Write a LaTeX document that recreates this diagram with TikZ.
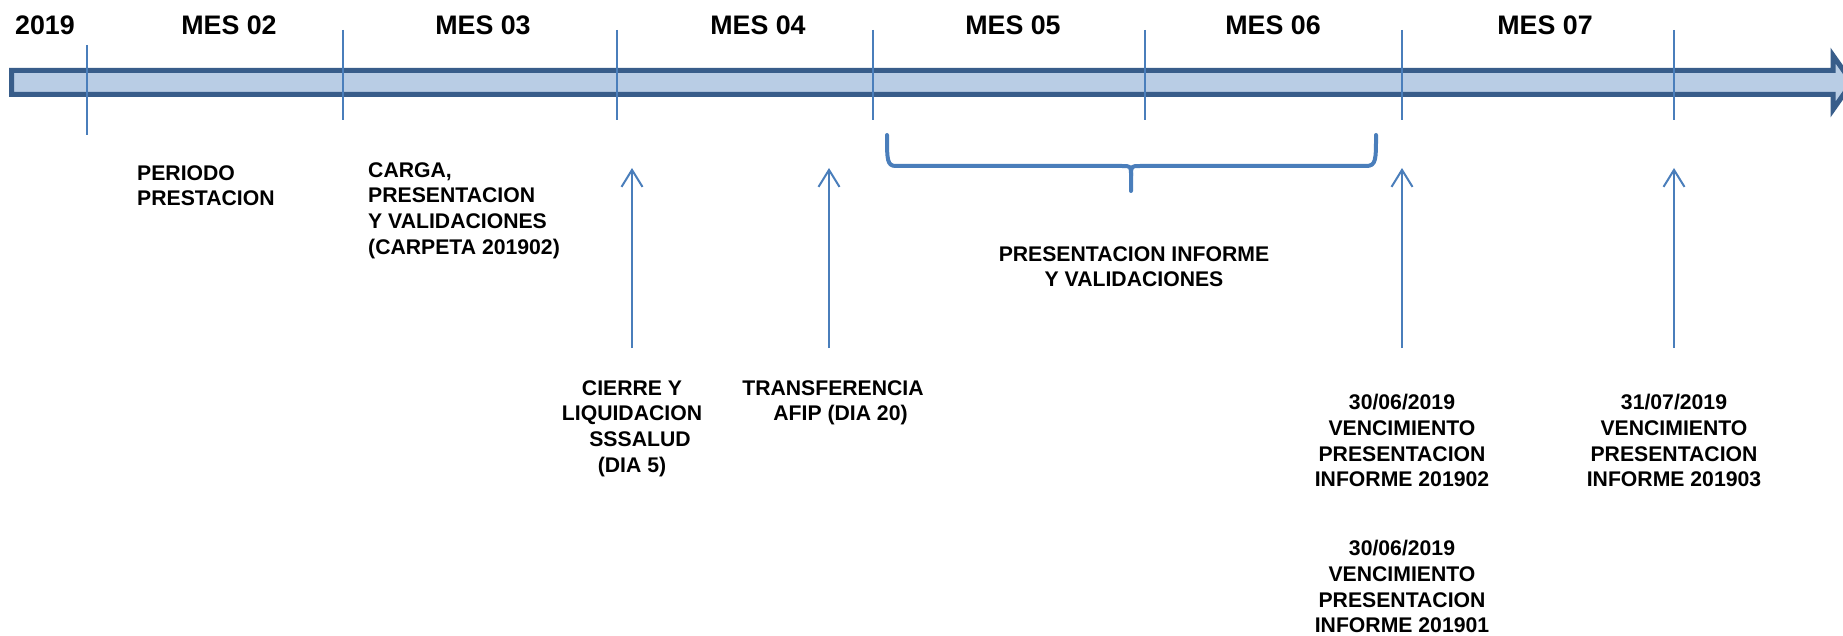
\documentclass[tikz,border=0pt]{standalone}
\usepackage{fontspec}
\setmainfont{Liberation Sans}
\usetikzlibrary{arrows.meta}
\definecolor{barborder}{HTML}{385D8A}
\definecolor{barfill}{HTML}{B9CDE5}
\definecolor{lineblue}{HTML}{4A7EBB}
\begin{document}
\begin{tikzpicture}[x=1pt,y=-1pt,
  month/.style={font=\fontsize{26.8}{30}\selectfont\bfseries, inner sep=0, anchor=base},
  lbl/.style={font=\fontsize{21.2}{25.8}\selectfont\bfseries, inner sep=0, anchor=north},
  lblleft/.style={lbl, align=left, anchor=north west},
  lblc/.style={lbl, align=center},
  tickline/.style={lineblue, line width=2},
  uparrow/.style={lineblue, line width=2, -{Straight Barb[length=17,width=21]}},
  bracestyle/.style={lineblue, line width=4, line cap=round, line join=round},
  timebar/.style={fill=barfill, draw=barborder, line width=5, line join=miter}]
\clip (0,0) rectangle (1843,636);
% time bar
\draw[timebar] (11.5,70.5) -- (1833,70.5) -- (1833,55.5) -- (1852,82.5)
  -- (1833,109.5) -- (1833,94.5) -- (11.5,94.5) -- cycle;
% ticks
\coordinate (t0a) at (87,45);   \coordinate (t0b) at (87,135);
\coordinate (t1a) at (343,30);  \coordinate (t1b) at (343,120);
\coordinate (t2a) at (617,30);  \coordinate (t2b) at (617,120);
\coordinate (t3a) at (873,30);  \coordinate (t3b) at (873,120);
\coordinate (t4a) at (1145,30); \coordinate (t4b) at (1145,120);
\coordinate (t5a) at (1402,30); \coordinate (t5b) at (1402,120);
\coordinate (t6a) at (1674,30); \coordinate (t6b) at (1674,120);
\foreach \i in {0,...,6} { \draw[tickline] (t\i a) -- (t\i b); }
% month labels
\node[month] (y19) at (45,35) {2019};
\node[month] (m02) at (229,35) {MES 02};
\node[month] (m03) at (483,35) {MES 03};
\node[month] (m04) at (758,35) {MES 04};
\node[month] (m05) at (1013,35) {MES 05};
\node[month] (m06) at (1273,35) {MES 06};
\node[month] (m07) at (1545,35) {MES 07};
% brace
\draw[bracestyle] (887,135) .. controls (887,160) and (887,166) .. (896,166) -- (1122,166)
  .. controls (1131,166) .. (1131,176) -- (1131,191);
\draw[bracestyle] (1131,176) .. controls (1131,166) .. (1140,166) -- (1366,166)
  .. controls (1376,166) and (1376,160) .. (1376,135);
% up arrows
\coordinate (a1b) at (632,348); \coordinate (a1t) at (632,168);
\coordinate (a2b) at (829,348); \coordinate (a2t) at (829,168);
\coordinate (a3b) at (1402,348); \coordinate (a3t) at (1402,168);
\coordinate (a4b) at (1674,348); \coordinate (a4t) at (1674,168);
\foreach \i in {1,...,4} { \draw[uparrow] (a\i b) -- (a\i t); }
% labels
\node[lblleft] (per) at (137,165) {PERIODO\\PRESTACION};
\node[lblleft] (carga) at (368,162) {CARGA,\\PRESENTACION\\Y VALIDACIONES\\(CARPETA 201902)};
\node[lblc] (cierre) at (632,380) {CIERRE Y\\LIQUIDACION\\\hspace*{16pt}SSSALUD\\(DIA 5)};
\node[lblc] (transf) at (833,380) {TRANSFERENCIA\\\hspace*{15pt}AFIP (DIA 20)};
\node[lblc] (presinf) at (1134,246) {PRESENTACION INFORME\\Y VALIDACIONES};
\node[lblc] (v1) at (1402,394) {30/06/2019\\VENCIMIENTO\\PRESENTACION\\INFORME 201902};
\node[lblc] (v2) at (1674,394) {31/07/2019\\VENCIMIENTO\\PRESENTACION\\INFORME 201903};
\node[lblc] (v3) at (1402,540) {30/06/2019\\VENCIMIENTO\\PRESENTACION\\INFORME 201901};
\end{tikzpicture}
\end{document}
